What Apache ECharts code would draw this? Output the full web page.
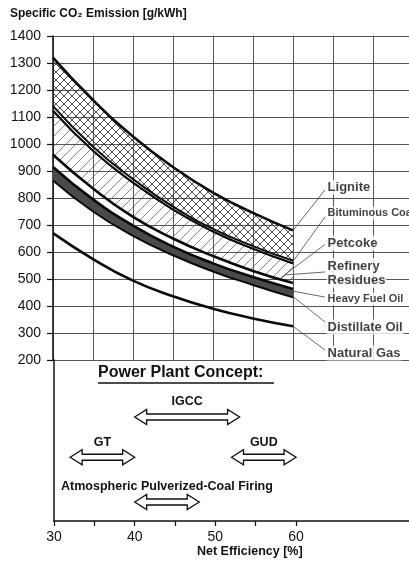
<!DOCTYPE html>
<html><head><meta charset="utf-8">
<script src="https://cdn.jsdelivr.net/npm/echarts@6/dist/echarts.min.js"></script>
<style>html,body{margin:0;padding:0;background:#fff}#c{width:409px;height:562px}</style>
</head><body><div id="c"></div>
<script>
// ---- data ----
const efficiency = [30, 35, 40, 45, 50, 55, 60];
const lignite      = [1320, 1163, 1028, 915, 820, 745, 680];
const bituminousHi = [1140, 990, 870, 768, 686, 622, 568];
const bituminousLo = [1123, 975, 857, 757, 676, 612, 558];
const petcoke      = [960, 835, 730, 650, 585, 530, 485];
const residueLine  = [915, 795, 698, 620, 558, 507, 463];
const distillate   = [865, 750, 660, 588, 528, 478, 432];
const naturalGas   = [670, 574, 494, 436, 390, 354, 325];

const yMin = 200, yMax = 1400, yStep = 100;
const xTickValues = [30, 35, 40, 45, 50, 55, 60];
const xLabelValues = [30, 40, 50, 60];

const fuelNames = ['Lignite', 'Bituminous Coal', 'Petcoke', 'Refinery\nResidues', 'Heavy Fuel Oil', 'Distillate Oil', 'Natural Gas'];
const fuelLabelAt = [[64.2, 840], [64.2, 744], [64.2, 633], [64.2, 522], [64.2, 426], [64.2, 322], [64.2, 226]];
const leaderFrom = [[64.0, 830], [64.0, 730], [64.0, 628], [64.0, 526], [64.0, 433], [64.0, 341], [64.0, 237]];
const leaderTo   = [[60, 680], [60, 565], [58.5, 505], [59, 515], [60, 455], [60, 435], [60, 325]];

const concepts = ['IGCC', 'GT', 'GUD', 'Atmospheric Pulverized-Coal Firing'];
const conceptFrom = [40, 32, 52, 40];
const conceptTo   = [53, 40, 60, 48];
const conceptRow  = [0.646, 0.396, 0.396, 0.118];

// ---- patterns ----
function tile(size, draw) {
  const c = document.createElement('canvas');
  c.width = c.height = size;
  const g = c.getContext('2d');
  draw(g, size);
  return c;
}
const crossTile = tile(8, (g, s) => {
  g.strokeStyle = '#333'; g.lineWidth = 0.85; g.beginPath();
  g.moveTo(-1, -1); g.lineTo(s + 1, s + 1);
  g.moveTo(-1, s + 1); g.lineTo(s + 1, -1);
  g.stroke();
});
const diagTile = tile(10, (g, s) => {
  g.strokeStyle = '#555'; g.lineWidth = 0.7; g.beginPath();
  g.moveTo(-1, s + 1); g.lineTo(s + 1, -1);
  g.moveTo(-1, 1); g.lineTo(1, -1);
  g.moveTo(s - 1, s + 1); g.lineTo(s + 1, s - 1);
  g.stroke();
});

// value first, efficiency second (encoded so the stack works on the y dimension)
const pairsYX = arr => efficiency.map((x, i) => [arr[i], x]);
const diffYX = (a, b) => efficiency.map((x, i) => [a[i] - b[i], x]);
const pairs = arr => efficiency.map((x, i) => [x, arr[i]]);
const SM = 0.5;

function helper(name, stack, data, area) {
  const s = { name, type: 'line', xAxisIndex: 0, yAxisIndex: 0, stack, data, smooth: SM,
    encode: { x: 1, y: 0 },
    showSymbol: false, silent: true, lineStyle: { width: 0 }, z: 2 };
  if (area) s.areaStyle = area;
  return s;
}
function curve(name, arr, w) {
  return { name, type: 'line', xAxisIndex: 0, yAxisIndex: 0, data: pairs(arr), smooth: SM,
    showSymbol: false, silent: true, lineStyle: { color: '#0a0a0a', width: w }, z: 4 };
}

const chart = echarts.init(document.getElementById('c'), null, { renderer: 'canvas' });
const FONT = '"Liberation Sans", Arial, sans-serif';

chart.setOption({
  backgroundColor: '#fff',
  animation: false,
  grid: [
    { left: 53, right: 0, top: 36, bottom: 202 },
    { left: 54, right: 0, top: 360, bottom: 41 }
  ],
  xAxis: [
    { type: 'value', gridIndex: 0, min: 30, max: 74.5, interval: 5,
      axisLine: { show: false }, axisTick: { show: false }, axisLabel: { show: false },
      splitLine: { show: true, showMaxLine: false, lineStyle: { color: '#555', width: 1 } } },
    { type: 'value', gridIndex: 1, min: 30, max: 74, interval: 5, position: 'bottom',
      axisLine: { show: true, lineStyle: { color: '#111', width: 1.5 } },
      axisTick: { show: true, length: 5, customValues: xTickValues, lineStyle: { color: '#111', width: 1.2 } },
      axisLabel: { show: true, customValues: xLabelValues, margin: 9, fontSize: 14, color: '#111', fontFamily: FONT },
      splitLine: { show: false } }
  ],
  yAxis: [
    { type: 'value', gridIndex: 0, min: yMin, max: yMax, interval: yStep,
      axisLine: { show: true, lineStyle: { color: '#111', width: 1.5 } },
      axisTick: { show: true, length: 6, lineStyle: { color: '#111', width: 1.2 } },
      axisLabel: { fontSize: 14, color: '#111', margin: 12, fontFamily: FONT, formatter: v => String(v) },
      splitLine: { show: true, lineStyle: { color: '#555', width: 1 } } },
    { type: 'value', gridIndex: 1, min: 0, max: 1,
      axisLine: { show: true, lineStyle: { color: '#111', width: 1.5 } },
      axisTick: { show: false }, axisLabel: { show: false }, splitLine: { show: false } }
  ],
  graphic: [
    { type: 'text', left: 10, top: 8,
      style: { text: 'Specific CO₂ Emission [g/kWh]', font: 'bold 12px ' + FONT, fill: '#111' } },
    { type: 'text', left: 197, top: 545,
      style: { text: 'Net Efficiency [%]', font: 'bold 12.5px ' + FONT, fill: '#111' } },
    { type: 'text', left: 98, top: 365,
      style: { text: 'Power Plant Concept:', font: 'bold 16px ' + FONT, fill: '#111' } },
    { type: 'line', shape: { x1: 98, y1: 383, x2: 274, y2: 383 }, style: { stroke: '#111', lineWidth: 1.6 } }
  ],
  series: [
    helper('baseA', 'a', pairsYX(bituminousHi)),
    helper('lignite band', 'a', diffYX(lignite, bituminousHi), { color: { image: crossTile, repeat: 'repeat' }, opacity: 1 }),
    helper('baseB', 'b', pairsYX(petcoke)),
    helper('residue band', 'b', diffYX(bituminousLo, petcoke), { color: { image: diagTile, repeat: 'repeat' }, opacity: 1 }),
    helper('baseC', 'c', pairsYX(distillate)),
    helper('oil band', 'c', diffYX(residueLine, distillate), { color: '#4a4a4a', opacity: 1 }),
    curve('Lignite', lignite, 2.6),
    curve('Bituminous hi', bituminousHi, 2),
    curve('Bituminous lo', bituminousLo, 2.2),
    curve('Petcoke', petcoke, 2.6),
    curve('Residues', residueLine, 2.6),
    curve('Distillate', distillate, 2),
    curve('Natural Gas', naturalGas, 2.6),
    { type: 'lines', coordinateSystem: 'cartesian2d', xAxisIndex: 0, yAxisIndex: 0, silent: true, z: 5,
      lineStyle: { color: '#444', width: 0.8, opacity: 1 },
      data: leaderFrom.map((p, i) => ({ coords: [p, leaderTo[i]] })) },
    { type: 'scatter', xAxisIndex: 0, yAxisIndex: 0, silent: true, z: 6, symbolSize: 0,
      data: fuelLabelAt.map((p, i) => ({ value: p, name: fuelNames[i],
        label: { fontSize: (i === 1 || i === 4) ? 11 : 13, lineHeight: (i === 3) ? 14 : undefined } })),
      label: { show: true, position: 'right', distance: 0, formatter: p => p.name,
        fontWeight: 'bold', fontFamily: FONT, color: '#111', backgroundColor: '#fff', padding: [1, 1] } },
    { type: 'custom', xAxisIndex: 1, yAxisIndex: 1, silent: true, z: 6,
      data: concepts.map((c, i) => [conceptFrom[i], conceptTo[i], conceptRow[i]]),
      renderItem: (params, api) => {
        const p1 = api.coord([api.value(0), api.value(2)]);
        const p2 = api.coord([api.value(1), api.value(2)]);
        const cy = p1[1], xl = p1[0], xr = p2[0];
        const H = 7.5, h = 3, L = 12;
        const pts = [[xl, cy], [xl + L, cy - H], [xl + L, cy - h], [xr - L, cy - h], [xr - L, cy - H], [xr, cy],
          [xr - L, cy + H], [xr - L, cy + h], [xl + L, cy + h], [xl + L, cy + H]];
        return { type: 'group', children: [
          { type: 'polygon', shape: { points: pts }, style: { fill: '#fff', stroke: '#111', lineWidth: 1.3 } },
          { type: 'text', style: { text: concepts[params.dataIndex], x: (xl + xr) / 2, y: cy - 15,
              align: 'center', verticalAlign: 'middle', textAlign: 'center', textVerticalAlign: 'middle',
              font: 'bold 12.5px ' + FONT, fill: '#111' } }
        ] };
      } }
  ]
});
</script></body></html>
